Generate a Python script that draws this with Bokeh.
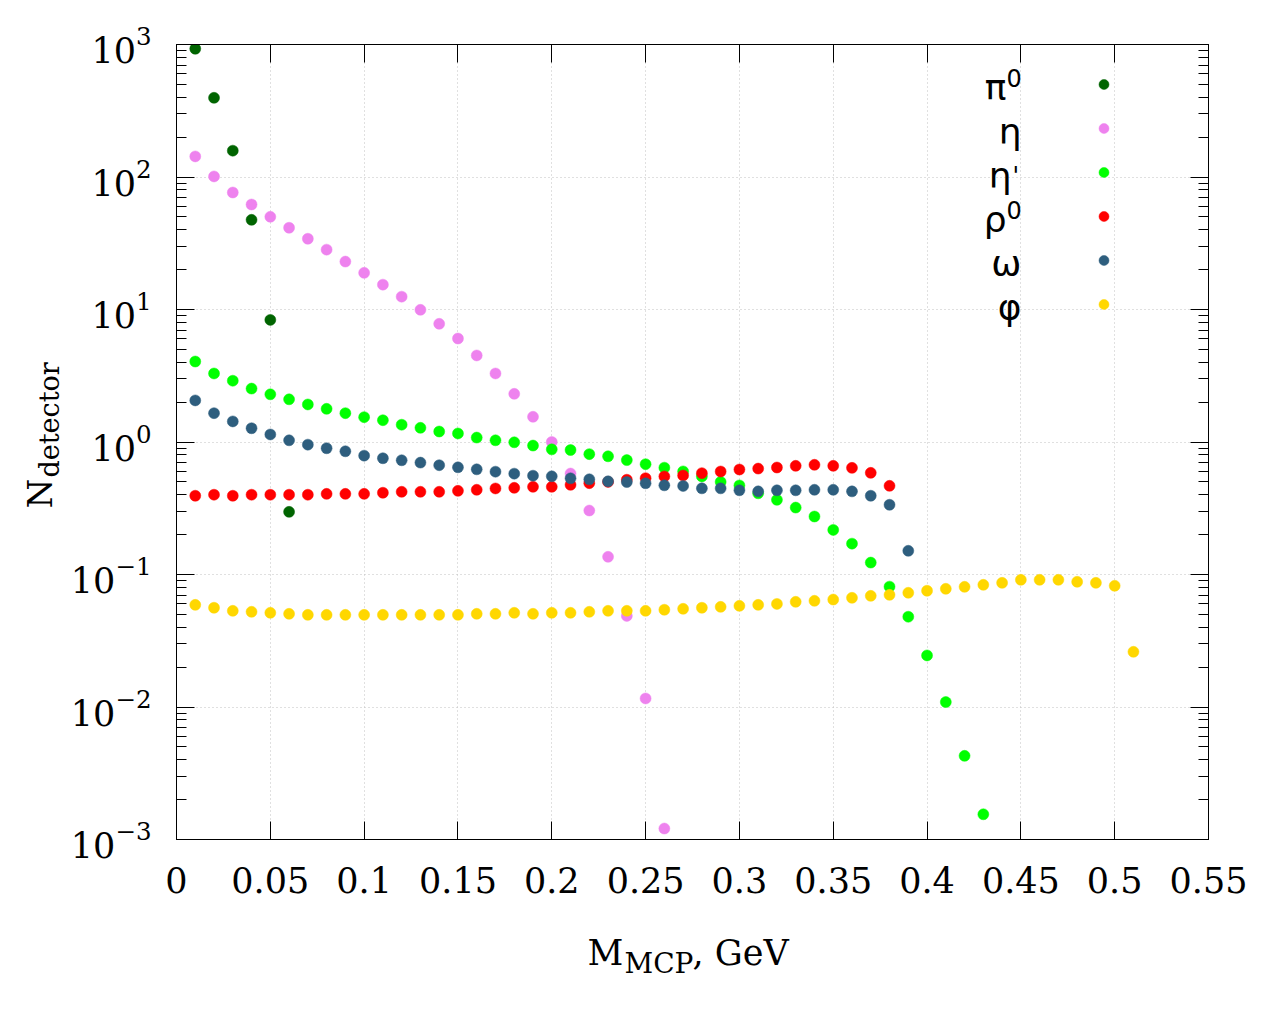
import math
from bokeh.plotting import figure
from bokeh.layouts import row, column
from bokeh.models import (FixedTicker, LinearAxis, LogAxis, Label, Legend, LegendItem,
                          CustomJSTickFormatter)
from bokeh.embed import file_html
from bokeh.resources import INLINE

# ---------------- data ----------------
MASS = [0.01, 0.02, 0.03, 0.04, 0.05, 0.06, 0.07, 0.08, 0.09, 0.10,
        0.11, 0.12, 0.13, 0.14, 0.15, 0.16, 0.17, 0.18, 0.19, 0.20,
        0.21, 0.22, 0.23, 0.24, 0.25, 0.26, 0.27, 0.28, 0.29, 0.30,
        0.31, 0.32, 0.33, 0.34, 0.35, 0.36, 0.37, 0.38, 0.39, 0.40,
        0.41, 0.42, 0.43, 0.44, 0.45, 0.46, 0.47, 0.48, 0.49, 0.50, 0.51]

PI0 = [929, 396, 158, 47.5, 8.35, 0.297]
ETA = [143, 101, 76.4, 62, 50.1, 41.4, 34.2, 28.3, 23.0, 18.9,
       15.4, 12.5, 9.95, 7.8, 6.04, 4.5, 3.29, 2.31, 1.55, 1.0,
       0.578, 0.304, 0.136, 0.0487, 0.0116, 0.00121]
ETAP = [4.05, 3.29, 2.90, 2.53, 2.29, 2.10, 1.92, 1.78, 1.65, 1.54,
        1.46, 1.35, 1.28, 1.20, 1.16, 1.08, 1.03, 0.995, 0.94, 0.88,
        0.87, 0.81, 0.78, 0.73, 0.68, 0.64, 0.60, 0.55, 0.50, 0.47,
        0.41, 0.366, 0.32, 0.274, 0.217, 0.171, 0.123, 0.081, 0.048, 0.0245,
        0.0109, 0.00428, 0.00155]
RHO0 = [0.393, 0.40, 0.393, 0.40, 0.40, 0.40, 0.40, 0.406, 0.406, 0.406,
        0.414, 0.421, 0.421, 0.421, 0.428, 0.436, 0.446, 0.451, 0.459, 0.459,
        0.475, 0.489, 0.50, 0.519, 0.533, 0.55, 0.559, 0.582, 0.599, 0.62,
        0.63, 0.642, 0.661, 0.673, 0.661, 0.638, 0.585, 0.467]
OMEGA = [2.06, 1.65, 1.43, 1.27, 1.14, 1.03, 0.955, 0.897, 0.851, 0.789,
         0.754, 0.728, 0.699, 0.668, 0.644, 0.622, 0.597, 0.577, 0.557, 0.551,
         0.532, 0.523, 0.505, 0.499, 0.488, 0.471, 0.466, 0.447, 0.447, 0.432,
         0.424, 0.432, 0.432, 0.436, 0.436, 0.424, 0.393, 0.336, 0.151]
PHI = [0.059, 0.0561, 0.0532, 0.0523, 0.0514, 0.0505, 0.0496, 0.0496, 0.0496, 0.0496,
       0.0496, 0.0496, 0.0496, 0.0496, 0.0496, 0.0505, 0.0505, 0.0514, 0.0505, 0.0514,
       0.0514, 0.0523, 0.0532, 0.0532, 0.0532, 0.0542, 0.0551, 0.0561, 0.057, 0.058,
       0.059, 0.060, 0.0622, 0.0633, 0.0647, 0.0667, 0.069, 0.0702, 0.0728, 0.0754,
       0.078, 0.0807, 0.0836, 0.0865, 0.0912, 0.0912, 0.0912, 0.0881, 0.0865, 0.0822,
       0.0261]

SERIES_NAMES = ["π0", "η", "η'", "ρ0", "ω", "φ"]
SERIES_VALUES = [PI0, ETA, ETAP, RHO0, OMEGA, PHI]
SERIES_COLORS = ["#006400", "#ee82ee", "#00ff00", "#ff0000", "#2e5e7e", "#ffd700"]
# legend label pieces: (base, superscript)
LEGEND_BASE = ["π", "η", "η", "ρ", "ω", "φ"]
LEGEND_SUP = ["0", "", "'", "0", "", ""]

XTICKS = [0, 0.05, 0.1, 0.15, 0.2, 0.25, 0.3, 0.35, 0.4, 0.45, 0.5, 0.55]
XTICK_LABELS = ["0", "0.05", "0.1", "0.15", "0.2", "0.25", "0.3", "0.35",
                "0.4", "0.45", "0.5", "0.55"]
YTICKS = [1e-3, 1e-2, 1e-1, 1e0, 1e1, 1e2, 1e3]
YMINOR = [k * 10.0 ** e for e in range(-3, 3) for k in range(2, 10)]

X_TITLE = ("M", "MCP", ", GeV")
Y_TITLE = ("N", "detector")

SERIF = "DejaVu Serif"
SANS = "DejaVu Sans"
BLANK = CustomJSTickFormatter(code="return ''")

LEFT_W = 66       # width of the strip holding the y title
BOTTOM_H = 80     # height of the strip holding the x title
TOP_B, LEFT_B, RIGHT_B, BOTTOM_B = 44, 110, 56, 80
FW, FH = 1032, 795
FRAME_L = LEFT_W + LEFT_B          # page x of frame left edge
FRAME_B = TOP_B + FH               # page y of frame bottom edge

# ---------------- main figure ----------------
p = figure(x_range=(0, 0.55), y_range=(1e-3, 1e3), y_axis_type="log",
           frame_width=FW, frame_height=FH,
           min_border_left=LEFT_B, min_border_right=RIGHT_B,
           min_border_top=TOP_B, min_border_bottom=BOTTOM_B,
           output_backend="svg", toolbar_location=None,
           background_fill_color="white", border_fill_color="white")
p.outline_line_color = "black"
p.outline_line_width = 1

xt = FixedTicker(ticks=XTICKS, minor_ticks=[])
yt = FixedTicker(ticks=YTICKS, minor_ticks=YMINOR)

def style_axis(ax, minor):
    ax.axis_line_color = "black"
    ax.axis_line_width = 1
    ax.major_tick_line_color = "black"
    ax.major_tick_in = 18
    ax.major_tick_out = 0
    if minor:
        ax.minor_tick_line_color = "black"
        ax.minor_tick_in = 10
        ax.minor_tick_out = 0
    else:
        ax.minor_tick_line_color = None

xa = p.xaxis[0]
xa.ticker = xt
xa.major_label_overrides = dict(zip(XTICKS, XTICK_LABELS))
xa.major_label_text_font = SERIF
xa.major_label_text_font_size = "35px"
xa.major_label_text_color = "black"
xa.major_label_standoff = 27
style_axis(xa, False)

ya = p.yaxis[0]
ya.ticker = yt
ya.major_label_text_font = SERIF
ya.major_label_text_font_size = "35px"
ya.major_label_text_color = "black"
ya.major_label_standoff = 25
style_axis(ya, True)

top = LinearAxis(ticker=xt, formatter=BLANK)
style_axis(top, False)
p.add_layout(top, "above")
right = LogAxis(ticker=yt, formatter=BLANK)
style_axis(right, True)
p.add_layout(right, "right")

p.xgrid.ticker = xt
p.ygrid.ticker = yt
for g in (p.xgrid, p.ygrid):
    g.grid_line_color = "#c0c0c0"
    g.grid_line_dash = "1 3"
    g.grid_line_width = 1

# ---------------- points ----------------
renderers = []
for name, vals, col in zip(SERIES_NAMES, SERIES_VALUES, SERIES_COLORS):
    r = p.scatter(MASS[:len(vals)], vals, size=11, fill_color=col, line_color=col,
                  line_width=0.5)
    renderers.append(r)

# ---------------- legend (markers on the right, labels to their left) ----------------
legend = Legend(items=[LegendItem(label=" ", renderers=[r]) for r in renderers],
                location=(915, 513), orientation="vertical",
                glyph_width=25, glyph_height=44, label_height=44, label_width=5,
                spacing=0, padding=0, margin=0,
                label_text_font_size="10px",
                background_fill_alpha=0, border_line_alpha=0)
p.add_layout(legend)

def lab(fig, x, y, text, font, size, align="left", angle=0.0):
    """x, y: screen position (from frame bottom-left) of the alphabetic baseline."""
    shift = 0.3 * size
    if angle:
        x -= shift
    else:
        y += shift
    fig.add_layout(Label(x=x, y=y, x_units="screen", y_units="screen", text=text,
                         text_font=font, text_font_size=f"{size}px", text_align=align,
                         text_baseline="alphabetic", text_color="black", angle=angle))

def page(fig_left, fig_bottom, px, py):
    return px - fig_left, fig_bottom - py

# legend labels (page coordinates of right edges / baselines)
for i, (b, s) in enumerate(zip(LEGEND_BASE, LEGEND_SUP)):
    base_y = 98 + i * 44
    if s == "":
        x, y = page(FRAME_L, FRAME_B, 1021, base_y)
        lab(p, x, y, b, SANS, 36, "right")
    elif s == "'":
        x, y = page(FRAME_L, FRAME_B, 1011, base_y)
        lab(p, x, y, b, SANS, 36, "right")
        x, y = page(FRAME_L, FRAME_B, 1012, base_y - 3)
        lab(p, x, y, s, SANS, 24, "left")
    else:
        x, y = page(FRAME_L, FRAME_B, 1006, base_y)
        lab(p, x, y, b, SANS, 36, "right")
        x, y = page(FRAME_L, FRAME_B, 1006, base_y - 13)
        lab(p, x, y, s, SANS, 24, "left")

# ---------------- axis titles (separate strips so they are not clipped) ----------------
total_h = TOP_B + FH + BOTTOM_B

yl = figure(frame_width=LEFT_W, frame_height=FH, x_range=(0, 1), y_range=(0, 1),
            x_axis_location=None, y_axis_location=None,
            min_border_left=0, min_border_right=0,
            min_border_top=TOP_B, min_border_bottom=BOTTOM_B,
            output_backend="svg", toolbar_location=None,
            outline_line_color=None, background_fill_color="white",
            border_fill_color="white")
yl.grid.visible = False
x, y = page(0, FRAME_B, 50, 508)
lab(yl, x, y, Y_TITLE[0], SERIF, 34, angle=math.pi / 2)
x, y = page(0, FRAME_B, 57, 477)
lab(yl, x, y, Y_TITLE[1], SERIF, 27, angle=math.pi / 2)

xl = figure(frame_width=FW, frame_height=BOTTOM_H, x_range=(0, 1), y_range=(0, 1),
            x_axis_location=None, y_axis_location=None,
            min_border_left=FRAME_L, min_border_right=RIGHT_B,
            min_border_top=0, min_border_bottom=0,
            output_backend="svg", toolbar_location=None,
            outline_line_color=None, background_fill_color="white",
            border_fill_color="white")
xl.grid.visible = False
xl_bottom = total_h + BOTTOM_H
x, y = page(FRAME_L, xl_bottom, 587, 963)
lab(xl, x, y, X_TITLE[0], SERIF, 35)
x, y = page(FRAME_L, xl_bottom, 624, 971)
lab(xl, x, y, X_TITLE[1], SERIF, 28)
x, y = page(FRAME_L, xl_bottom, 692, 963)
lab(xl, x, y, X_TITLE[2], SERIF, 35)

layout = column(row(yl, p), xl)
open("out.html", "w").write(file_html(layout, INLINE))
